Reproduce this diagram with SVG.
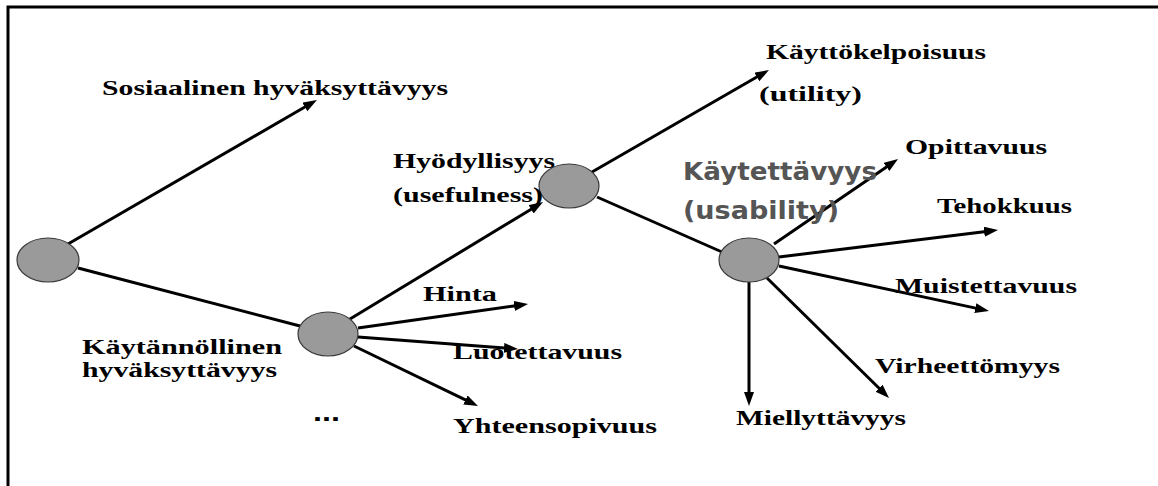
<svg xmlns="http://www.w3.org/2000/svg" width="1158" height="486" viewBox="0 0 1158 486">
  <style>
    .frame { stroke: #000; stroke-width: 3; fill: none; }
    .edge { stroke: #000; stroke-width: 3; fill: none; }
    .arrow { marker-end: url(#head); }
    .hub { fill: #9a9a9a; stroke: #3a3a3a; stroke-width: 1.2; }
    .lbl { font-family: "Liberation Serif", "Times New Roman", serif; font-weight: bold; font-size: 22px; fill: #000; }
    .key { font-family: "DejaVu Sans", Verdana, sans-serif; font-weight: bold; font-size: 24px; fill: #555; }
    .dots { font-family: "Liberation Sans", Arial, sans-serif; font-weight: bold; font-size: 26px; fill: #000; }
  </style>
  <defs>
    <marker id="head" markerUnits="userSpaceOnUse" markerWidth="15" markerHeight="11" refX="4" refY="5" orient="auto">
      <path d="M0,0 L14,5 L0,10 z" fill="#000"/>
    </marker>
  </defs>

  <rect width="1158" height="486" fill="#fff"/>
  <!-- frame: top and left rules -->
  <path class="frame" d="M8,486 V7 H1158"/>

  <g id="connectors">
    <line class="edge arrow" x1="68" y1="244" x2="308.3" y2="105"/>
    <line class="edge" x1="78" y1="268" x2="300" y2="326"/>
    <line class="edge arrow" x1="350" y1="319" x2="534.5" y2="207.2"/>
    <line class="edge arrow" x1="592" y1="172" x2="760.3" y2="75"/>
    <line class="edge" x1="597" y1="197" x2="722" y2="252"/>
    <line class="edge arrow" x1="358" y1="328" x2="518.1" y2="305.4"/>
    <line class="edge arrow" x1="358" y1="337" x2="508" y2="348.2"/>
    <line class="edge arrow" x1="354" y1="346" x2="469" y2="401.7"/>
    <line class="edge arrow" x1="774" y1="244" x2="889.8" y2="164.7"/>
    <line class="edge arrow" x1="779" y1="257" x2="988.1" y2="231.2"/>
    <line class="edge arrow" x1="779" y1="266" x2="979.2" y2="308.9"/>
    <line class="edge arrow" x1="767" y1="278" x2="881.9" y2="391"/>
    <line class="edge arrow" x1="749" y1="282" x2="749" y2="396"/>
  </g>

  <g id="node-root">
    <ellipse class="hub" cx="48" cy="260" rx="31" ry="22"/>
  </g>
  <g id="node-sosiaalinen">
    <text class="lbl" x="102" y="95" textLength="346" lengthAdjust="spacingAndGlyphs">Sosiaalinen hyväksyttävyys</text>
  </g>
  <g id="node-kaytannollinen">
    <ellipse class="hub" cx="328" cy="334" rx="30" ry="22"/>
    <text class="lbl" x="82" y="354" textLength="200" lengthAdjust="spacingAndGlyphs">Käytännöllinen</text>
    <text class="lbl" x="82" y="377" textLength="195" lengthAdjust="spacingAndGlyphs">hyväksyttävyys</text>
  </g>
  <g id="node-more">
    <text class="dots" x="313" y="421" textLength="27" lengthAdjust="spacingAndGlyphs">...</text>
  </g>
  <g id="node-hyodyllisyys">
    <ellipse class="hub" cx="569" cy="186" rx="30" ry="22"/>
    <text class="lbl" x="393" y="168" textLength="162" lengthAdjust="spacingAndGlyphs">Hyödyllisyys</text>
    <text class="lbl" x="393" y="202" textLength="150" lengthAdjust="spacingAndGlyphs">(usefulness)</text>
  </g>
  <g id="node-hinta">
    <text class="lbl" x="423" y="301" textLength="74" lengthAdjust="spacingAndGlyphs">Hinta</text>
  </g>
  <g id="node-luotettavuus">
    <text class="lbl" x="453" y="359" textLength="169" lengthAdjust="spacingAndGlyphs">Luotettavuus</text>
  </g>
  <g id="node-yhteensopivuus">
    <text class="lbl" x="453" y="433" textLength="204" lengthAdjust="spacingAndGlyphs">Yhteensopivuus</text>
  </g>
  <g id="node-kayttokelpoisuus">
    <text class="lbl" x="766" y="59" textLength="220" lengthAdjust="spacingAndGlyphs">Käyttökelpoisuus</text>
    <text class="lbl" x="759" y="101" textLength="103" lengthAdjust="spacingAndGlyphs">(utility)</text>
  </g>
  <g id="node-kaytettavyys">
    <ellipse class="hub" cx="749" cy="260" rx="30" ry="22"/>
    <text class="key" x="683" y="180" textLength="194" lengthAdjust="spacingAndGlyphs">Käytettävyys</text>
    <text class="key" x="683" y="219" textLength="156" lengthAdjust="spacingAndGlyphs">(usability)</text>
  </g>
  <g id="node-opittavuus">
    <text class="lbl" x="905" y="154" textLength="142" lengthAdjust="spacingAndGlyphs">Opittavuus</text>
  </g>
  <g id="node-tehokkuus">
    <text class="lbl" x="937" y="213" textLength="135" lengthAdjust="spacingAndGlyphs">Tehokkuus</text>
  </g>
  <g id="node-muistettavuus">
    <text class="lbl" x="895" y="293" textLength="182" lengthAdjust="spacingAndGlyphs">Muistettavuus</text>
  </g>
  <g id="node-virheettomyys">
    <text class="lbl" x="875" y="373" textLength="185" lengthAdjust="spacingAndGlyphs">Virheettömyys</text>
  </g>
  <g id="node-miellyttavyys">
    <text class="lbl" x="736" y="425" textLength="170" lengthAdjust="spacingAndGlyphs">Miellyttävyys</text>
  </g>
</svg>
